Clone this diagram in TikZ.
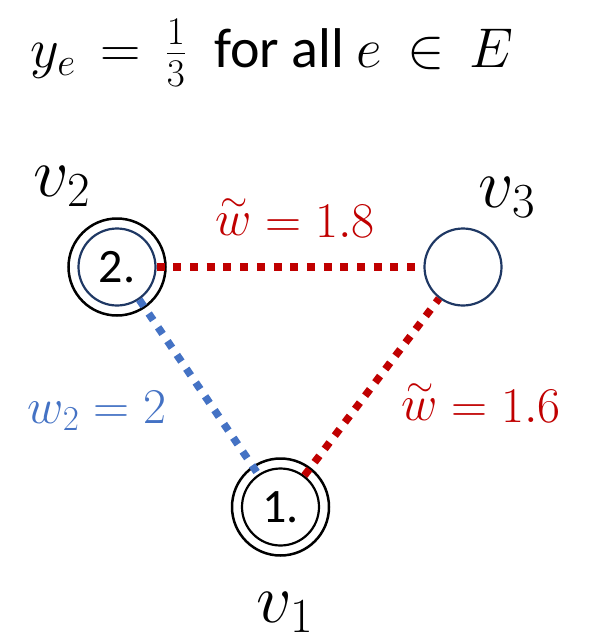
\RequirePackage{fix-cm}
\documentclass[tikz,border=0pt]{standalone}
\usepackage[no-math]{fontspec}
\setmainfont{Carlito}
\definecolor{edgered}{HTML}{C00000}
\definecolor{edgeblue}{HTML}{4472C4}
\definecolor{nodenavy}{HTML}{1F3864}
\newcommand{\wtil}{\mathord{\stackrel{\sim}{w}}}

\begin{document}
\begin{tikzpicture}[x=1pt, y=-1pt]
    \tikzset{
      vertex/.style={circle, draw=nodenavy, line width=2.2pt,
        minimum size=77pt, inner sep=0pt, font=\fontsize{48}{50}\selectfont},
      ring/.style={circle, draw=black, line width=2.5pt,
        minimum size=97pt, inner sep=0pt},
      dots/.style={line width=7.5pt, dash pattern=on 8pt off 8.7pt},
      vlabel/.style={anchor=base, font=\fontsize{70}{74}\selectfont},
      wlabel/.style={anchor=base, font=\fontsize{50}{54}\selectfont}
    }
    \useasboundingbox (0,0) rectangle (593,642);
    % title
    \node[anchor=base, font=\fontsize{56}{62}\selectfont] (title) at (272,67)
      {$y_e \mathrel{\,=\,} \frac{1}{3}$\enspace for all $e \mathrel{\,\in\,} E$};
    % vertices
    \node[vertex] (v2) at (117,267) {2.};
    \node[vertex] (v3) at (463,267) {};
    \node[vertex, draw=black] (v1) at (280.5,507) {1.};
    \node[ring] (v2ring) at (v2) {};
    \node[ring] (v1ring) at (v1) {};
    % edges
    \draw[dots, edgered] (v2) -- (v3);
    \draw[dots, edgeblue] (v2) -- (v1);
    \draw[dots, edgered] (v1) -- (v3);
    % labels
    \node[vlabel] (l2) at (62,196) {$v_2$};
    \node[vlabel] (l3) at (507,207) {$v_3$};
    \node[vlabel] (l1) at (285,622) {$v_1$};
    \node[wlabel, edgered] (w23) at (295,237) {$\wtil = 1.8$};
    \node[wlabel, edgeblue] (w12) at (97,423) {$w_2 = 2$};
    \node[wlabel, edgered] (w13) at (481,422) {$\wtil = 1.6$};
\end{tikzpicture}
\end{document}
